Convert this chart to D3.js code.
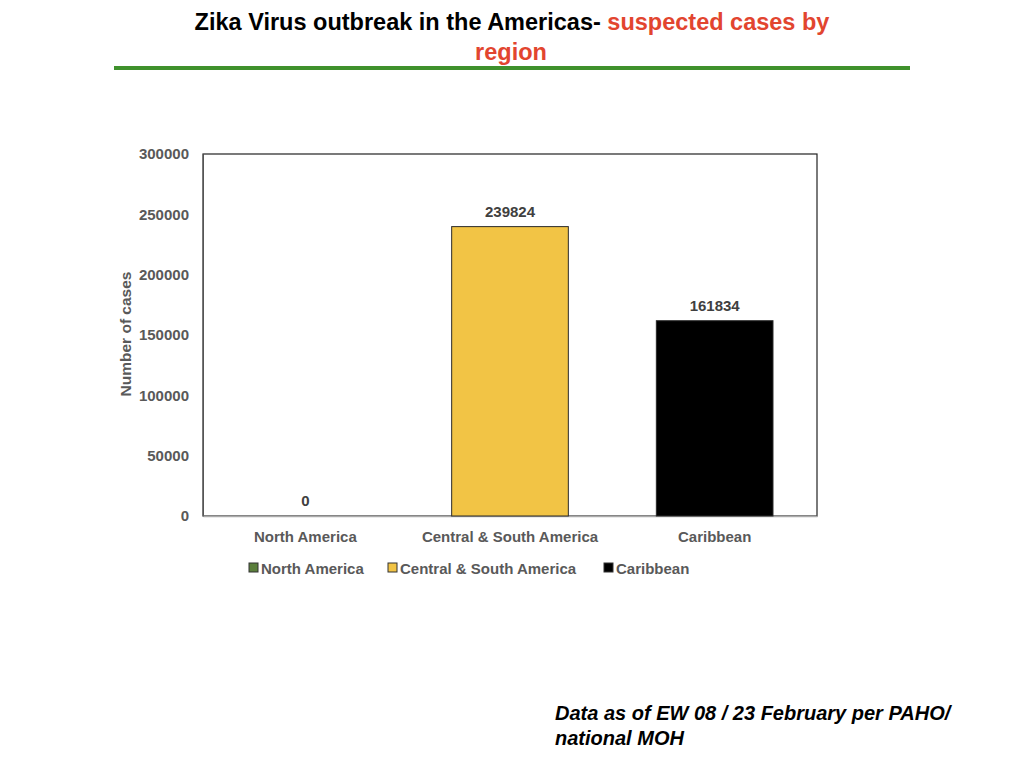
<!DOCTYPE html>
<html>
<head>
<meta charset="utf-8">
<script src="https://cdn.jsdelivr.net/npm/d3@7"></script>
<style>
  body { margin: 0; background: #fff; }
  text { font-family: "Liberation Sans", Arial, sans-serif; }
</style>
</head>
<body>
<div class="chart-container"></div>
<script>
(function() {
  ////////////////////////////////////////////////////////////
  //// Data //////////////////////////////////////////////////
  ////////////////////////////////////////////////////////////
  const regions = ["North America", "Central & South America", "Caribbean"];
  const cases = [0, 239824, 161834];
  const regionColors = ["#5b7f3c", "#f2c445", "#000000"];
  const yTicks = [0, 50000, 100000, 150000, 200000, 250000, 300000];

  ////////////////////////////////////////////////////////////
  //// Chart /////////////////////////////////////////////////
  ////////////////////////////////////////////////////////////
  const chartWidth = 1024;
  const chartHeight = 768;
  const plot = { left: 203, right: 817, top: 154, bottom: 516 };
  const labelGray = "#595959";

  const svg = d3
    .select(".chart-container")
    .append("svg")
    .attr("width", chartWidth)
    .attr("height", chartHeight)
    .attr("viewBox", [0, 0, chartWidth, chartHeight]);

  // Title
  const title = svg
    .append("text")
    .attr("x", 512)
    .attr("y", 30)
    .attr("text-anchor", "middle")
    .attr("font-size", 23.5)
    .attr("font-weight", "bold");
  title.append("tspan").attr("fill", "#000").text("Zika Virus outbreak in the Americas- ");
  title.append("tspan").attr("fill", "#e2452f").text("suspected cases by");
  svg
    .append("text")
    .attr("x", 511)
    .attr("y", 60)
    .attr("text-anchor", "middle")
    .attr("font-size", 23.5)
    .attr("font-weight", "bold")
    .attr("fill", "#e2452f")
    .text("region");

  svg
    .append("line")
    .attr("x1", 114)
    .attr("x2", 910)
    .attr("y1", 68)
    .attr("y2", 68)
    .attr("stroke", "#3f912c")
    .attr("stroke-width", 4);

  // Scales
  const xScale = d3
    .scaleBand()
    .domain(regions)
    .range([plot.left, plot.right])
    .paddingInner(0.43)
    .paddingOuter(0.215);

  const yScale = d3
    .scaleLinear()
    .domain([0, 300000])
    .range([plot.bottom, plot.top]);

  // Frame
  svg
    .append("rect")
    .attr("x", plot.left)
    .attr("y", plot.top)
    .attr("width", plot.right - plot.left)
    .attr("height", plot.bottom - plot.top)
    .attr("fill", "none")
    .attr("stroke", "#222")
    .attr("stroke-width", 1.2);

  // Y axis
  const yAxis = svg
    .append("g")
    .attr("transform", `translate(${plot.left},0)`)
    .call(d3.axisLeft(yScale).tickValues(yTicks).tickSize(0).tickPadding(14).tickFormat(d3.format("d")));
  yAxis.select(".domain").attr("stroke", "#555");
  yAxis
    .selectAll(".tick text")
    .attr("font-family", "Liberation Sans, Arial, sans-serif")
    .attr("font-size", 15)
    .attr("font-weight", "bold")
    .attr("fill", labelGray);

  // X axis
  const xAxis = svg
    .append("g")
    .attr("transform", `translate(0,${plot.bottom})`)
    .call(d3.axisBottom(xScale).tickSize(0).tickPadding(15));
  xAxis.select(".domain").attr("stroke", "#aaa").attr("stroke-width", 1.5);
  xAxis
    .selectAll(".tick text")
    .attr("font-family", "Liberation Sans, Arial, sans-serif")
    .attr("font-size", 15)
    .attr("font-weight", "bold")
    .attr("fill", labelGray);

  // Axis title
  svg
    .append("text")
    .attr("transform", `translate(131,${(plot.top + plot.bottom) / 2 - 1}) rotate(-90)`)
    .attr("text-anchor", "middle")
    .attr("font-size", 15.5)
    .attr("font-weight", "bold")
    .attr("fill", labelGray)
    .text("Number of cases");

  // Bars
  const data = regions.map((r, i) => ({ region: r, value: cases[i], color: regionColors[i] }));

  svg
    .append("g")
    .selectAll("rect")
    .data(data.filter(d => d.value > 0))
    .join("rect")
    .attr("x", d => xScale(d.region))
    .attr("y", d => yScale(d.value))
    .attr("width", xScale.bandwidth())
    .attr("height", d => yScale(0) - yScale(d.value))
    .attr("fill", d => d.color)
    .attr("stroke", "#2a2a2a")
    .attr("stroke-width", 1);

  svg
    .append("g")
    .selectAll("text")
    .data(data)
    .join("text")
    .attr("x", d => xScale(d.region) + xScale.bandwidth() / 2)
    .attr("y", d => yScale(d.value) - 10)
    .attr("text-anchor", "middle")
    .attr("font-size", 15)
    .attr("font-weight", "bold")
    .attr("fill", "#404040")
    .text(d => d.value);

  // Legend
  const legendX = [249, 388, 604];
  const legend = svg
    .append("g")
    .selectAll("g")
    .data(data)
    .join("g")
    .attr("transform", (d, i) => `translate(${legendX[i]},568)`);
  legend
    .append("rect")
    .attr("x", 0)
    .attr("y", -5)
    .attr("width", 9)
    .attr("height", 9)
    .attr("fill", d => d.color)
    .attr("stroke", "#333")
    .attr("stroke-width", 1);
  legend
    .append("text")
    .attr("x", 12)
    .attr("y", 5.5)
    .attr("font-size", 15)
    .attr("font-weight", "bold")
    .attr("fill", labelGray)
    .text(d => d.region);

  // Footnote
  const note = svg
    .append("g")
    .attr("font-size", 20)
    .attr("font-weight", "bold")
    .attr("font-style", "italic")
    .attr("fill", "#000");
  note.append("text").attr("x", 555).attr("y", 720).text("Data as of EW 08 / 23 February per PAHO/");
  note.append("text").attr("x", 555).attr("y", 745).text("national MOH");
})();
</script>
</body>
</html>
